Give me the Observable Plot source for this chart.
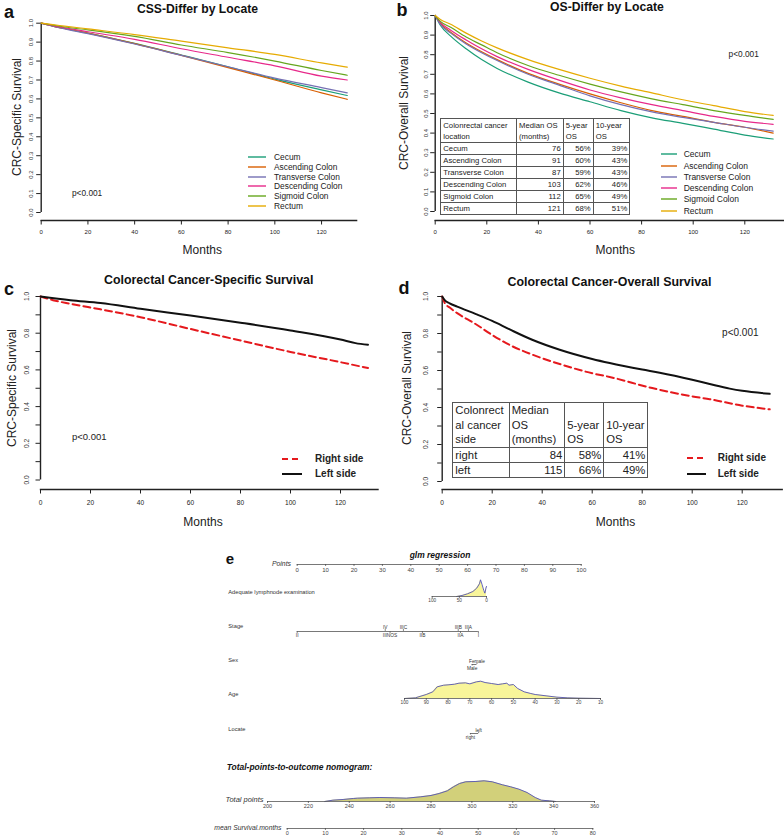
<!DOCTYPE html>
<html><head><meta charset="utf-8">
<script src="https://cdn.jsdelivr.net/npm/d3@7"></script>
<script src="https://cdn.jsdelivr.net/npm/@observablehq/plot@0.6"></script>
<style>
html,body{margin:0;padding:0;background:#fff;}
#fig{position:relative;width:784px;height:836px;overflow:hidden;background:#fff;font-family:"Liberation Sans",Arial,sans-serif;}
#fig > svg{position:absolute;overflow:visible;}
.t{position:absolute;white-space:nowrap;line-height:1;color:#111;}
table.km{position:absolute;border-collapse:collapse;table-layout:fixed;color:#222;border:1.5px solid #222;}
table.km td{border:1px solid #555;padding:0 2px;white-space:nowrap;overflow:hidden;box-sizing:border-box;line-height:1;}
</style></head><body><div id="fig"></div>
<script>
// ---------------- data ----------------
const locations = ["Cecum", "Ascending Colon", "Transverse Colon", "Descending Colon", "Sigmoid Colon", "Rectum"];
const locColors = ["#1b9e77", "#d95f02", "#7570b3", "#e7298a", "#66a61e", "#e6ab02"];

const xTicks = [0, 20, 40, 60, 80, 100, 120];
const yTicksTenth = [0, 0.1, 0.2, 0.3, 0.4, 0.5, 0.6, 0.7, 0.8, 0.9, 1.0];
const yLabelsFifth = [0, 0.2, 0.4, 0.6, 0.8, 1.0];

// panel a: cancer-specific survival by location
const cssMonths = [0, 5, 10, 20, 40, 60, 80, 100, 120, 131];
const cssCecum      = [1, 0.985, 0.972, 0.948, 0.893, 0.832, 0.770, 0.705, 0.648, 0.618];
const cssAscending  = [1, 0.985, 0.972, 0.948, 0.892, 0.830, 0.765, 0.700, 0.632, 0.598];
const cssTransverse = [1, 0.984, 0.970, 0.945, 0.890, 0.830, 0.770, 0.710, 0.660, 0.632];
const cssDescending = [1, 0.987, 0.976, 0.955, 0.915, 0.865, 0.820, 0.775, 0.720, 0.700];
const cssSigmoid    = [1, 0.990, 0.980, 0.965, 0.930, 0.885, 0.845, 0.800, 0.750, 0.725];
const cssRectum     = [1, 0.992, 0.985, 0.970, 0.940, 0.905, 0.870, 0.835, 0.790, 0.768];

// panel b: overall survival by location
const osMonths = [0, 2, 6, 12, 18, 24, 36, 48, 60, 72, 84, 96, 108, 120, 131];
const osCecum      = [1, 0.950, 0.895, 0.830, 0.775, 0.730, 0.660, 0.605, 0.560, 0.515, 0.478, 0.450, 0.420, 0.390, 0.370];
const osAscending  = [1, 0.960, 0.915, 0.860, 0.815, 0.775, 0.705, 0.650, 0.600, 0.555, 0.515, 0.485, 0.455, 0.430, 0.400];
const osTransverse = [1, 0.955, 0.910, 0.855, 0.810, 0.770, 0.700, 0.645, 0.590, 0.545, 0.508, 0.480, 0.455, 0.430, 0.410];
const osDescending = [1, 0.965, 0.925, 0.875, 0.830, 0.790, 0.725, 0.670, 0.620, 0.580, 0.545, 0.515, 0.485, 0.460, 0.445];
const osSigmoid    = [1, 0.970, 0.940, 0.890, 0.850, 0.810, 0.745, 0.695, 0.650, 0.610, 0.575, 0.545, 0.515, 0.490, 0.470];
const osRectum     = [1, 0.980, 0.955, 0.910, 0.870, 0.835, 0.775, 0.725, 0.680, 0.640, 0.605, 0.570, 0.540, 0.510, 0.490];

// table in panel b
const tabBHeader = ["Colonrectal cancer\nlocation", "Median OS\n(months)", "5-year\nOS", "10-year\nOS"];
const medianOS = [76, 91, 87, 103, 112, 121];
const os5yr = [56, 60, 59, 62, 65, 68];
const os10yr = [39, 43, 43, 46, 49, 51];

// panel c: cancer-specific survival by side
const sides = ["Right side", "Left side"];
const cRightMonths = [0, 5, 12, 24, 40, 60, 80, 100, 120, 131];
const cRightSurv   = [1, 0.980, 0.960, 0.930, 0.887, 0.823, 0.760, 0.698, 0.642, 0.610];
const cLeftMonths  = [0, 12, 24, 40, 60, 80, 100, 120, 126, 131];
const cLeftSurv    = [1, 0.980, 0.965, 0.933, 0.896, 0.857, 0.815, 0.766, 0.746, 0.737];

// panel d: overall survival by side
const dRightMonths = [0, 1, 3, 6, 13.5, 20, 27, 36, 47, 60, 67, 84, 100, 107, 120, 131];
const dRightSurv   = [1, 0.965, 0.940, 0.910, 0.850, 0.792, 0.738, 0.686, 0.635, 0.585, 0.565, 0.505, 0.460, 0.445, 0.410, 0.390];
const dLeftMonths  = [0, 1, 3, 6, 13.5, 20, 27, 36, 47, 60, 67, 80, 87, 100, 107, 115, 120, 131];
const dLeftSurv    = [1, 0.980, 0.963, 0.945, 0.905, 0.868, 0.822, 0.766, 0.712, 0.662, 0.640, 0.605, 0.588, 0.550, 0.527, 0.502, 0.490, 0.474];

// table in panel d
const tabDHeader = ["Colonrect\nal cancer\nside", "Median\nOS\n(months)", "\n5-year\nOS", "\n10-year\nOS"];
const sideShort = ["right", "left"];
const sideMedianOS = [84, 115];
const side5yr = [58, 66];
const side10yr = [41, 49];

// panel e: nomogram
const pointsTicks = [0, 10, 20, 30, 40, 50, 60, 70, 80, 90, 100];
const lymphTicks = [100, 50, 0];
const lymphVal = [55, 45, 35, 25, 18, 13, 11, 8, 5, 3, 1, 0];
const lymphDen = [0, 3, 8, 15, 25, 38, 50, 35, 18, 10, 25, 30];
const stageLabels = ["II", "IV", "IIINOS", "IIIC", "IIB", "IIIB", "IIA", "IIIA", "I"];
const stagePoints = [0, 31.0, 32.7, 37.4, 44.1, 56.7, 57.5, 60.3, 63.8];
const stageSide   = [-1, 1, -1, 1, -1, 1, -1, 1, -1];
const sexLabels = ["Female", "Male"];
const sexPoints = [63.3, 61.6];
const locateLabels = ["left", "right"];
const locatePoints = [63.9, 61.0];
const catSide2 = [1, -1];
const ageTicks = [100, 90, 80, 70, 60, 50, 40, 30, 20, 10];
const ageVal = [100, 95, 90, 87, 85, 82, 80, 77, 75, 72, 70, 67, 65, 63, 60, 57, 55, 53, 52, 50, 48, 45, 42, 40, 35, 30, 25, 20, 10];
const ageDen = [0, 2, 12, 20, 35, 40, 41, 43, 46, 47, 44, 50, 52, 48, 45, 42, 44, 46, 40, 42, 30, 20, 15, 12, 8, 4, 2, 1, 0];
const totalTicks = [200, 220, 240, 260, 280, 300, 320, 340, 360];
const totalVal = [228, 232, 237, 242, 244, 250, 255, 262, 268, 275, 280, 284, 288, 291, 294, 297, 302, 306, 310, 315, 319, 323, 327, 331, 334, 338, 341];
const totalDen = [0, 4, 6, 9, 10, 11, 12, 11, 10, 14, 18, 24, 32, 44, 54, 59, 60, 62, 59, 50, 44, 37, 27, 12, 4, 2, 0];
const survTicks = [0, 10, 20, 30, 40, 50, 60, 70, 80];

// ---------------- helpers ----------------
const fig = document.getElementById("fig");
const SANS = "'Liberation Sans', Arial, sans-serif";
function hasFont(name) {
  const c = document.createElement("canvas").getContext("2d");
  const s = "abcdefghijklmnopqrstuvwxyz ABCDEFG";
  c.font = "40px monospace"; const a = c.measureText(s).width;
  c.font = `40px '${name}', monospace`; const b = c.measureText(s).width;
  return Math.abs(a - b) > 0.5;
}
const HAS_NARROW = hasFont("Liberation Sans Narrow");
const NARROW = HAS_NARROW ? "'Liberation Sans Narrow', 'Liberation Sans', sans-serif" : SANS;
const NK = HAS_NARROW ? 1 : 0.83; // size factor for narrow text

function T(s, x, y, o = {}) {
  const d = document.createElement("div");
  d.className = "t";
  d.textContent = s;
  const a = o.anchor || "middle";
  Object.assign(d.style, {
    left: x + "px", top: y + "px", fontSize: (o.size || 10) + "px",
    fontWeight: o.bold ? "bold" : "normal", fontStyle: o.italic ? "italic" : "normal",
    fontFamily: o.family || SANS, color: o.color || "#111"
  });
  const tx = a === "middle" ? "-50%" : a === "end" ? "-100%" : "0%";
  d.style.transform = `translate(${tx},-50%)` + (o.rotate ? ` rotate(${o.rotate}deg)` : "");
  fig.appendChild(d);
}
const NS = "http://www.w3.org/2000/svg";
function swatch(x1, x2, y, color, width, dash) {
  const s = document.createElementNS(NS, "svg");
  s.setAttribute("width", x2 - x1); s.setAttribute("height", 8);
  s.style.cssText = `position:absolute;left:${x1}px;top:${y - 4}px;overflow:visible`;
  const l = document.createElementNS(NS, "line");
  l.setAttribute("x1", 0); l.setAttribute("x2", x2 - x1); l.setAttribute("y1", 4); l.setAttribute("y2", 4);
  l.setAttribute("stroke", color); l.setAttribute("stroke-width", width);
  if (dash) l.setAttribute("stroke-dasharray", dash);
  s.appendChild(l);
  fig.appendChild(s);
}
function put(svg, left, top) {
  svg.style.position = "absolute";
  svg.style.left = left + "px";
  svg.style.top = top + "px";
  fig.appendChild(svg);
}
const long = (months, names, arrays) =>
  names.flatMap((n, j) => months.map((m, i) => ({month: m, surv: arrays[j][i], loc: n})));
const pairs = (months, vals) => months.map((m, i) => ({month: m, surv: vals[i]}));

function kmPanel(cfg) {
  const svg = Plot.plot({
    width: cfg.width, height: cfg.height,
    marginLeft: cfg.mL, marginRight: cfg.mR, marginTop: cfg.mT, marginBottom: cfg.mB,
    x: {domain: [0, cfg.xMax]},
    y: {domain: [0, 1], insetBottom: cfg.inset},
    color: {domain: locations, range: locColors},
    style: {background: "transparent", overflow: "visible", fontFamily: SANS},
    marks: [
      Plot.frame({anchor: "bottom", stroke: "#222", strokeWidth: 1.4}),
      Plot.ruleX(xTicks.slice(0, 1), {y1: yTicksTenth[0], y2: yTicksTenth[yTicksTenth.length - 1], stroke: "#222", strokeWidth: 1.4}),
      Plot.axisY({ticks: yTicksTenth, tickSize: 4.5, tickFormat: () => "", color: "#222", label: null}),
      Plot.text(cfg.yLabels, {y: d => d, text: d => d.toFixed(1), frameAnchor: "left", dx: cfg.ydx, rotate: -90,
        textAnchor: "middle", lineAnchor: "bottom", fontSize: cfg.font, fill: "#333"}),
      Plot.axisX({ticks: xTicks, tickSize: 4.5, tickPadding: cfg.xPad, fontSize: cfg.font, color: "#222", label: null}),
      ...cfg.marks
    ]
  });
  put(svg, cfg.left, cfg.top);
}

function htmlTable(cfg) {
  const t = document.createElement("table");
  t.className = "km";
  Object.assign(t.style, {left: cfg.left + "px", top: cfg.top + "px", fontSize: cfg.font + "px", fontFamily: cfg.family,
    width: cfg.widths.reduce((a, b) => a + b, 0) + "px"});
  const cg = document.createElement("colgroup");
  cfg.widths.forEach(w => { const c = document.createElement("col"); c.style.width = w + "px"; cg.appendChild(c); });
  t.appendChild(cg);
  const hr = document.createElement("tr");
  cfg.header.forEach(h => {
    const td = document.createElement("td");
    td.style.height = cfg.headH + "px"; td.style.verticalAlign = "bottom"; td.style.lineHeight = cfg.lineH + "px";
    h.split("\n").forEach((line, i) => { if (i) td.appendChild(document.createElement("br")); td.appendChild(document.createTextNode(line)); });
    hr.appendChild(td);
  });
  t.appendChild(hr);
  cfg.rows.forEach(r => {
    const tr = document.createElement("tr");
    r.forEach((v, i) => {
      const td = document.createElement("td");
      td.textContent = v;
      td.style.height = cfg.rowH + "px"; td.style.lineHeight = (cfg.rowH - 1) + "px";
      td.style.textAlign = i === 0 ? "left" : "right";
      tr.appendChild(td);
    });
    t.appendChild(tr);
  });
  fig.appendChild(t);
}

// ---------------- panel a ----------------
kmPanel({
  left: 0, top: 0, width: 392, height: 245, mL: 40.7, mR: 35.9, mT: 22.7, mB: 25, inset: 8, xMax: 135,
  yLabels: yTicksTenth, ydx: -8, font: 6, xPad: 4.5,
  marks: [Plot.line(long(cssMonths, locations, [cssCecum, cssAscending, cssTransverse, cssDescending, cssSigmoid, cssRectum]),
    {x: "month", y: "surv", z: "loc", stroke: "loc", strokeWidth: 1.2, curve: "monotone-x"})]
});
// ---------------- panel b ----------------
kmPanel({
  left: 392, top: 0, width: 392, height: 245, mL: 42.7, mR: 1, mT: 15, mB: 25, inset: 9, xMax: 135,
  yLabels: yTicksTenth, ydx: -7, font: 6, xPad: 4.5,
  marks: [Plot.line(long(osMonths, locations, [osCecum, osAscending, osTransverse, osDescending, osSigmoid, osRectum]),
    {x: "month", y: "surv", z: "loc", stroke: "loc", strokeWidth: 1.2, curve: "monotone-x"})]
});
// ---------------- panel c ----------------
kmPanel({
  left: 0, top: 240, width: 392, height: 290, mL: 40, mR: 14.5, mT: 56, mB: 41, inset: 9.5, xMax: 135,
  yLabels: yLabelsFifth, ydx: -11.5, font: 6.6, xPad: 6,
  marks: [
    Plot.line(pairs(cRightMonths, cRightSurv), {x: "month", y: "surv", stroke: "#e5191d", strokeWidth: 2, strokeDasharray: "7,4", curve: "monotone-x"}),
    Plot.line(pairs(cLeftMonths, cLeftSurv), {x: "month", y: "surv", stroke: "#111", strokeWidth: 2, curve: "monotone-x"})
  ]
});
// ---------------- panel d ----------------
kmPanel({
  left: 392, top: 240, width: 392, height: 290, mL: 49.7, mR: 2.3, mT: 56, mB: 41, inset: 8, xMax: 136,
  yLabels: yLabelsFifth, ydx: -14, font: 6.6, xPad: 6,
  marks: [
    Plot.line(pairs(dRightMonths, dRightSurv), {x: "month", y: "surv", stroke: "#e5191d", strokeWidth: 2, strokeDasharray: "7,4", curve: "monotone-x"}),
    Plot.line(pairs(dLeftMonths, dLeftSurv), {x: "month", y: "surv", stroke: "#111", strokeWidth: 2, curve: "monotone-x"})
  ]
});

// ---------------- nomogram rows ----------------
const NOMO_AXIS = "#555";
function axisRow(cfg) {
  const H = 40, base = 30;
  const peak = cfg.densPeak || 10;
  const marks = [];
  if (cfg.densX) {
    const dd = cfg.densX.map((v, i) => ({v, h: cfg.densY[i]}));
    marks.push(Plot.areaY(dd, {x: "v", y: "h", fill: cfg.densFill}));
    marks.push(Plot.lineY(dd, {x: "v", y: "h", stroke: "#5252b8", strokeWidth: 0.9}));
  }
  marks.push(Plot.frame({anchor: "bottom", stroke: NOMO_AXIS, strokeWidth: 0.8}));
  marks.push(Plot.axisX({ticks: cfg.ticks, tickSize: 2, tickPadding: cfg.pad, fontSize: cfg.font, fontFamily: NARROW,
    color: "#444", strokeWidth: 0.7, label: null}));
  const svg = Plot.plot({
    width: 784, height: H, marginLeft: cfg.pxA, marginRight: 784 - cfg.pxB, marginTop: base - peak, marginBottom: H - base,
    x: {domain: cfg.domain}, y: {domain: [0, cfg.densMax || 1], axis: null},
    style: {background: "transparent", overflow: "visible", fontFamily: NARROW},
    marks
  });
  put(svg, 0, cfg.baseline - base);
}
function catRow(cfg) {
  const H = 30, base = 15, tl = cfg.tickLen || 2;
  const items = cfg.labels.map((label, i) => ({label, pts: cfg.points[i], side: cfg.sides[i]}));
  const svg = Plot.plot({
    width: 784, height: H, marginLeft: 296.7, marginRight: 784 - 580.7, marginTop: base - tl, marginBottom: H - base - tl,
    x: {domain: [pointsTicks[0], pointsTicks[pointsTicks.length - 1]], axis: null}, y: {domain: [-1, 1], axis: null},
    style: {background: "transparent", overflow: "visible", fontFamily: NARROW},
    marks: [
      Plot.ruleY([0], {x1: d3.min(cfg.points), x2: d3.max(cfg.points), stroke: NOMO_AXIS, strokeWidth: 0.8}),
      Plot.ruleX(items, {x: "pts", y1: 0, y2: "side", stroke: NOMO_AXIS, strokeWidth: 0.7}),
      Plot.text(items.filter(d => d.side > 0), {x: "pts", y: "side", text: "label", lineAnchor: "bottom", dy: -0.3, fontSize: cfg.font, fill: "#333"}),
      Plot.text(items.filter(d => d.side < 0), {x: "pts", y: "side", text: "label", lineAnchor: "top", dy: 0.3, fontSize: cfg.font, fill: "#333"})
    ]
  });
  put(svg, 0, cfg.baseline - base);
}

axisRow({baseline: 564, domain: [0, 100], pxA: 296.7, pxB: 580.7, ticks: pointsTicks, font: 7.3 * NK, pad: 1});
axisRow({baseline: 595.7, domain: [100, 0], pxA: 431.7, pxB: 486, ticks: lymphTicks, font: 5.7 * NK, pad: 0.5,
  densX: lymphVal, densY: lymphDen, densMax: 50, densPeak: 16.7, densFill: "#f8f59a"});
catRow({baseline: 631, labels: stageLabels, points: stagePoints, sides: stageSide, font: 5.8 * NK, tickLen: 2});
catRow({baseline: 664, labels: sexLabels, points: sexPoints, sides: catSide2, font: 5.8 * NK, tickLen: 1.5});
axisRow({baseline: 698.3, domain: [100, 10], pxA: 404, pxB: 600, ticks: ageTicks, font: 5.7 * NK, pad: 0.3,
  densX: ageVal, densY: ageDen, densMax: 52, densPeak: 17.3, densFill: "#f8f59a"});
catRow({baseline: 733, labels: locateLabels, points: locatePoints, sides: catSide2, font: 5.8 * NK, tickLen: 1.5});
axisRow({baseline: 800.7, domain: [200, 360], pxA: 267, pxB: 594, ticks: totalTicks, font: 6.6 * NK, pad: 0.4,
  densX: totalVal, densY: totalDen, densMax: 62, densPeak: 20.7, densFill: "#d2d07a"});
axisRow({baseline: 827.7, domain: [0, 80], pxA: 286.7, pxB: 592.3, ticks: survTicks, font: 6.6 * NK, pad: 0.6});

// ---------------- tables ----------------
htmlTable({left: 440.3, top: 118.3, widths: [75.7, 46.7, 30, 36.6], headH: 23.4, lineH: 11, rowH: 12,
  font: 9.3 * NK, family: NARROW, header: tabBHeader,
  rows: locations.map((l, i) => [l, medianOS[i], os5yr[i] + "%", os10yr[i] + "%"])});
htmlTable({left: 452.3, top: 401.7, widths: [56.4, 55.6, 39, 44], headH: 45, lineH: 14.5, rowH: 15,
  font: 11.3, family: SANS, header: tabDHeader,
  rows: sideShort.map((s, i) => [s, sideMedianOS[i], side5yr[i] + "%", side10yr[i] + "%"])});

// ---------------- text: panel letters, titles, axis labels ----------------
T("a", 9, 12, {size: 18, bold: true});
T("b", 402, 10, {size: 18, bold: true});
T("c", 9, 289, {size: 18, bold: true});
T("d", 404, 288, {size: 18, bold: true});
T("e", 230, 558, {size: 15, bold: true});

T("CSS-Differ by Locate", 197.5, 9, {size: 12.2, bold: true});
T("OS-Differ by Locate", 607, 7, {size: 12.2, bold: true});
T("Colorectal Cancer-Specific Survival", 208.7, 280, {size: 12.4, bold: true});
T("Colorectal Cancer-Overall Survival", 609.5, 281.7, {size: 12.4, bold: true});

T("CRC-Specific Survival", 17, 117, {size: 12, rotate: -90, color: "#222"});
T("CRC-Overall Survival", 404, 113, {size: 12, rotate: -90, color: "#222"});
T("CRC-Specific Survival", 12, 388, {size: 12, rotate: -90, color: "#222"});
T("CRC-Overall Survival", 407, 388, {size: 12, rotate: -90, color: "#222"});

T("Months", 202.3, 250, {size: 12, color: "#222"});
T("Months", 615.3, 250, {size: 12, color: "#222"});
T("Months", 203, 522, {size: 12, color: "#222"});
T("Months", 615.5, 522, {size: 12, color: "#222"});

T("p<0.001", 72, 193.3, {size: 8.3, anchor: "start", color: "#222"});
T("p<0.001", 743.7, 54, {size: 8.3, color: "#222"});
T("p<0.001", 72, 437, {size: 9.5, anchor: "start", color: "#222"});
T("p<0.001", 740.3, 333, {size: 10, color: "#222"});

// ---------------- legends ----------------
const legA_y = [156.7, 166.7, 176.7, 186.3, 196, 205.7];
const legB_y = [154.3, 165.7, 176.7, 188, 199.3, 210.7];
locations.forEach((l, i) => {
  swatch(248, 266, legA_y[i], locColors[i], 1.4);
  T(l, 274, legA_y[i], {size: 8.4, anchor: "start", color: "#222"});
  swatch(661, 677, legB_y[i], locColors[i], 1.4);
  T(l, 683.7, legB_y[i], {size: 8.5, anchor: "start", color: "#222"});
});
const sideColors = ["#e5191d", "#111"];
const sideDash = ["6,4", null];
const legC_y = [459, 474];
const legD_y = [458.3, 474];
sides.forEach((s, i) => {
  swatch(282, 302, legC_y[i], sideColors[i], 2, sideDash[i]);
  T(s, 315, legC_y[i], {size: 10, bold: true, anchor: "start", color: "#222"});
  swatch(686.7, 705.7, legD_y[i], sideColors[i], 2, sideDash[i]);
  T(s, 717.7, legD_y[i], {size: 10, bold: true, anchor: "start", color: "#222"});
});

// ---------------- nomogram texts ----------------
T("glm regression", 440, 555, {size: 10.2 * NK, bold: true, italic: true, family: NARROW});
T("Points", 291, 563.5, {size: 8.3 * NK, italic: true, anchor: "end", family: NARROW, color: "#333"});
T("Adequate lymphnode examination", 228.3, 593.3, {size: 6.9 * NK, anchor: "start", family: NARROW, color: "#333"});
T("Stage", 228.3, 626.7, {size: 6.9 * NK, anchor: "start", family: NARROW, color: "#333"});
T("Sex", 228.3, 661, {size: 6.9 * NK, anchor: "start", family: NARROW, color: "#333"});
T("Age", 228.3, 695, {size: 6.9 * NK, anchor: "start", family: NARROW, color: "#333"});
T("Locate", 228.3, 730, {size: 6.9 * NK, anchor: "start", family: NARROW, color: "#333"});
T("Total-points-to-outcome nomogram:", 226.7, 766.7, {size: 10.2 * NK, bold: true, italic: true, anchor: "start", family: NARROW});
T("Total points", 263.5, 799.5, {size: 9 * NK, italic: true, anchor: "end", family: NARROW, color: "#333"});
T("mean Survival.months", 281.5, 827.5, {size: 8.2 * NK, italic: true, anchor: "end", family: NARROW, color: "#333"});
</script></body></html>
